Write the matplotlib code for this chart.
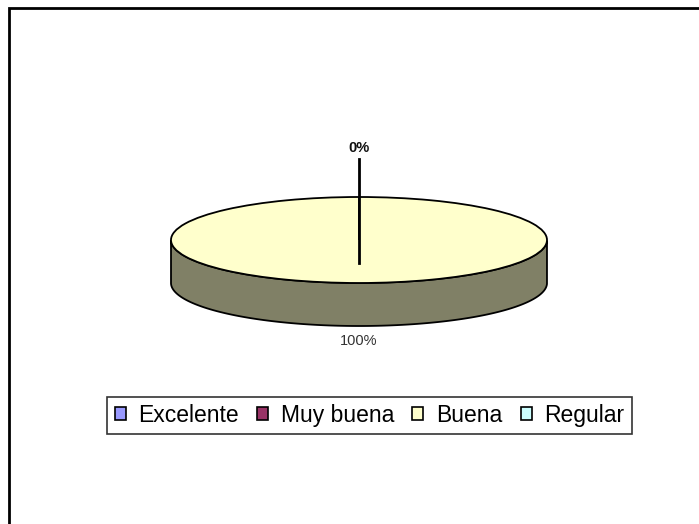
import numpy as np
import matplotlib
matplotlib.use("Agg")
import matplotlib.pyplot as plt
from matplotlib.patches import Rectangle, Patch
from matplotlib.colors import to_rgb

plt.rcParams['font.family'] = ['Liberation Sans', 'DejaVu Sans']

categorias = ["Excelente", "Muy buena", "Buena", "Regular"]
valores = [0, 0, 100, 0]
colores = ["#9999FF", "#993366", "#FFFFCC", "#CCFFFF"]

W, H = 699, 524
fig = plt.figure(figsize=(W / 100, H / 100), dpi=100)

# pie geometry in pixels: centre, semi-axes, depth of the 3d side
cx, cy = 359, 240
ra, rb = 188, 43
depth = 1.0  # in rb units

left_px, right_px = 140, 580
top_px, bot_px = 120, 370
ax = fig.add_axes([left_px / W, 1 - bot_px / H, (right_px - left_px) / W, (bot_px - top_px) / H])

wedges, _ = ax.pie(valores, colors=colores, startangle=90, counterclock=False,
                   wedgeprops=dict(edgecolor="black", linewidth=1.3))
for w in wedges:
    w.set_zorder(3)
ax.set_aspect("auto")
ax.set_xlim(-(cx - left_px) / ra, (right_px - cx) / ra)
ax.set_ylim(-(bot_px - cy) / rb, (cy - top_px) / rb)
ax.axis("off")

total = sum(valores)
for w, v, col in zip(wedges, valores, colores):
    if v == 0:
        continue
    t1, t2 = w.theta1 % 360, w.theta2 % 360
    if np.isclose(t1, t2):
        t1, t2 = 0, 360
    # keep the part of the wedge facing the viewer (180..360 deg)
    ts = np.linspace(t1, t2, 400) if t2 > t1 else np.linspace(t1, t2 + 360, 400)
    ts = ts % 360
    ts = np.sort(ts[(ts >= 180) & (ts <= 360)])
    if len(ts) < 2:
        continue
    rad = np.deg2rad(ts)
    xs = np.concatenate([np.cos(rad), np.cos(rad[::-1])])
    ys = np.concatenate([np.sin(rad), np.sin(rad[::-1]) - depth])
    dark = tuple(c * 0.5 for c in to_rgb(col))
    ax.fill(xs, ys, facecolor=dark, edgecolor="black", linewidth=1.3, zorder=2)

# percentage labels (the zero slices share one spot at the top)
hechos = set()
for w, v in zip(wedges, valores):
    m = np.deg2rad((w.theta1 + w.theta2) / 2)
    pct = f"{v / total * 100:.0f}%"
    if np.sin(m) > 0.5:
        lx, ly = np.cos(m) * 2.1, np.sin(m) * 2.14
        if (round(lx, 3), pct) in hechos:
            continue
        hechos.add((round(lx, 3), pct))
        ax.plot([lx, lx], [-0.53, ly - 0.25], color="black", lw=2, zorder=4)
        ax.text(lx, ly, pct, ha="center", va="center", fontsize=10.5,
                fontweight="bold", color="#111111", zorder=5)
    else:
        lx, ly = np.cos(m) * 1.0, np.sin(m) * 1.0 - depth - 0.36
        ax.text(lx, ly, pct, ha="center", va="center", fontsize=10.5,
                color="#333333", zorder=5)

handles = [Patch(facecolor=c, edgecolor="black", linewidth=1.2) for c in colores]
leg = fig.legend(handles, categorias, loc="center", ncol=4,
                 bbox_to_anchor=(369.5 / W, 1 - 415.5 / H),
                 fontsize=16.5, frameon=True, fancybox=False,
                 handlelength=0.48, handleheight=0.48, handletextpad=0.55,
                 columnspacing=0.8, borderpad=0.32, borderaxespad=0)
leg.get_frame().set_edgecolor("black")
leg.get_frame().set_linewidth(1.2)

# chart area border (right and bottom edges lie outside the image)
fig.patches.append(Rectangle((9 / W, -0.1), 2, 1 - 8 / H + 0.1, transform=fig.transFigure,
                             fill=False, edgecolor="black", linewidth=2))

fig.savefig("out.png", dpi=100)
